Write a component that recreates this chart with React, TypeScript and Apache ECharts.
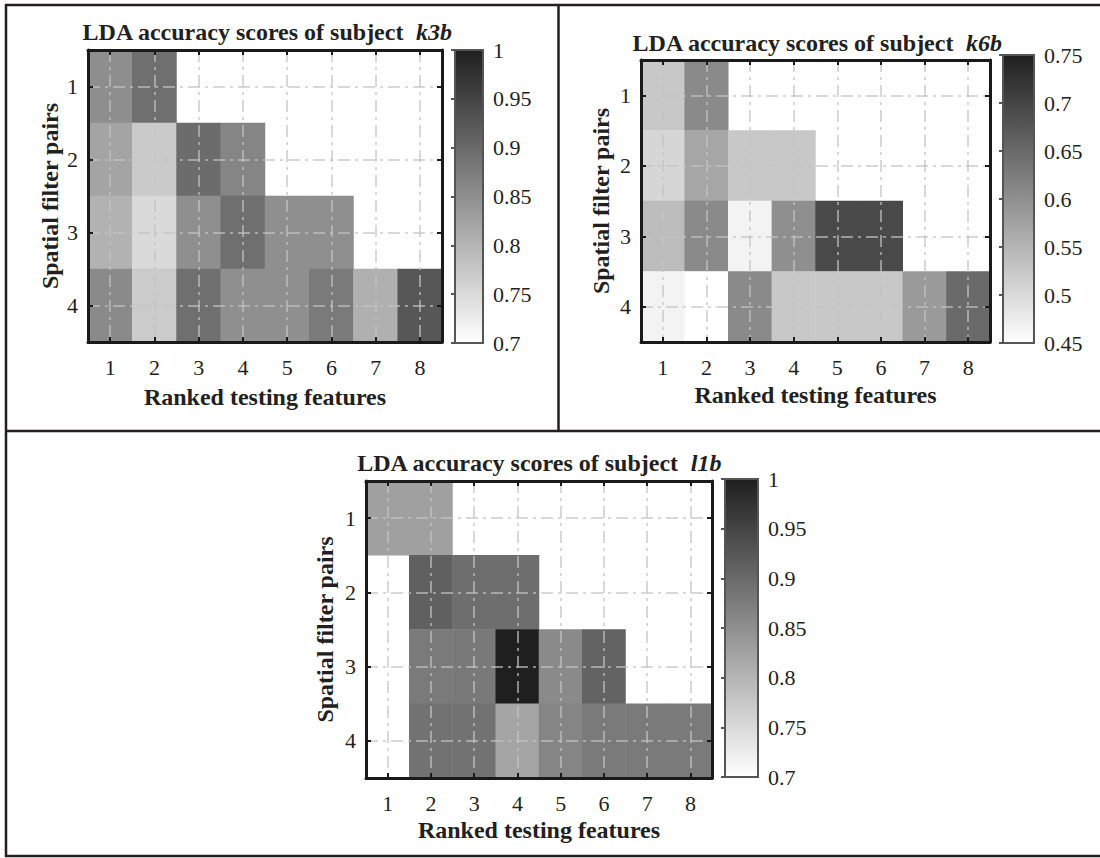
import React, { useEffect, useRef } from "react";
import * as echarts from "echarts";

// ---- data ----
const featureLabels = ["1", "2", "3", "4", "5", "6", "7", "8"];
const pairLabels = ["1", "2", "3", "4"];

const k3bScores: (number | null)[][] = [
  [0.851, 0.893, null, null, null, null, null, null],
  [0.822, 0.771, 0.897, 0.863, null, null, null, null],
  [0.803, 0.75, 0.85, 0.893, 0.85, 0.85, null, null],
  [0.857, 0.77, 0.893, 0.85, 0.85, 0.878, 0.806, 0.925],
];
const k6bScores: (number | null)[][] = [
  [0.524, 0.607, null, null, null, null, null, null],
  [0.505, 0.569, 0.524, 0.524, null, null, null, null],
  [0.54, 0.607, 0.466, 0.6, 0.692, 0.692, null, null],
  [0.466, 0.45, 0.607, 0.524, 0.524, 0.524, 0.585, 0.65],
];
const l1bScores: (number | null)[][] = [
  [0.827, 0.827, null, null, null, null, null, null],
  [null, 0.913, 0.894, 0.894, null, null, null, null],
  [null, 0.878, 0.88, 1.0, 0.857, 0.909, null, null],
  [null, 0.889, 0.889, 0.82, 0.863, 0.878, 0.878, 0.878],
];

const k3bRange = [0.7, 1];
const k6bRange = [0.45, 0.75];
const l1bRange = [0.7, 1];
const colorbarStep = 0.05;

const titleText = "LDA accuracy scores of subject";
const xName = "Ranked testing features";
const yName = "Spatial filter pairs";

// ---- layout / style ----
const FONT = '"Liberation Serif", "Times New Roman", serif';
const DARK = "#1f1f1f";
const FRAME = "#1a1a1a";
const TICK_FS = 22;

const panels = [
  {
    subject: "k3b",
    scores: k3bScores,
    range: k3bRange,
    grid: { left: 88, top: 50, width: 354, height: 292 },
    cb: { left: 455, top: 50, width: 28, height: 293 },
    title: [267, 32],
    xGap: 55,
    yGap: 38,
  },
  {
    subject: "k6b",
    scores: k6bScores,
    range: k6bRange,
    grid: { left: 641, top: 60, width: 349, height: 282 },
    cb: { left: 1003, top: 55, width: 31, height: 288 },
    title: [817, 43],
    xGap: 53,
    yGap: 40,
  },
  {
    subject: "l1b",
    scores: l1bScores,
    range: l1bRange,
    grid: { left: 366, top: 481, width: 346, height: 297 },
    cb: { left: 725, top: 479, width: 33, height: 298 },
    title: [539, 463],
    xGap: 52,
    yGap: 41,
  },
];

function buildOption() {
  const grids: any[] = [];
  const xAxes: any[] = [];
  const yAxes: any[] = [];
  const series: any[] = [];
  const visualMaps: any[] = [];
  const graphics: any[] = [];

  const gridLineStyle = {
    color: "rgba(195,195,195,0.65)",
    width: 2,
    type: [12, 5, 3, 5],
  };

  panels.forEach((p) => {
    const gi = grids.length;
    grids.push({ ...p.grid, containLabel: false });
    const cbi = grids.length;
    grids.push({ ...p.cb, containLabel: false });

    const tickStyle = {
      show: true,
      inside: true,
      alignWithLabel: true,
      length: 5,
      lineStyle: { color: FRAME, width: 2 },
    };
    const lineStyle = { show: true, lineStyle: { color: FRAME, width: 3 } };

    const xb = xAxes.length;
    xAxes.push({
      type: "category",
      gridIndex: gi,
      data: featureLabels,
      position: "bottom",
      z: 6,
      axisLine: lineStyle,
      axisTick: tickStyle,
      axisLabel: { fontFamily: FONT, fontSize: TICK_FS, color: "#231f20", margin: 14 },
      splitLine: { show: false },
      name: xName,
      nameLocation: "middle",
      nameGap: p.xGap,
      nameTextStyle: {
        fontFamily: FONT,
        fontSize: 24,
        fontWeight: "bold",
        color: "#231f20",
        verticalAlign: "middle",
      },
    });
    xAxes.push({
      type: "category",
      gridIndex: gi,
      data: featureLabels,
      position: "top",
      z: 6,
      axisLine: lineStyle,
      axisTick: tickStyle,
      axisLabel: { show: false },
      splitLine: { show: false },
    });
    const yl = yAxes.length;
    yAxes.push({
      type: "category",
      gridIndex: gi,
      data: pairLabels,
      inverse: true,
      position: "left",
      z: 6,
      axisLine: lineStyle,
      axisTick: tickStyle,
      axisLabel: { fontFamily: FONT, fontSize: TICK_FS, color: "#231f20", margin: 10 },
      splitLine: { show: false },
      name: yName,
      nameLocation: "middle",
      nameGap: p.yGap,
      nameRotate: 90,
      nameTextStyle: {
        fontFamily: FONT,
        fontSize: 24,
        fontWeight: "bold",
        color: "#231f20",
        verticalAlign: "middle",
      },
    });
    yAxes.push({
      type: "category",
      gridIndex: gi,
      data: pairLabels,
      inverse: true,
      position: "right",
      z: 6,
      axisLine: lineStyle,
      axisTick: tickStyle,
      axisLabel: { show: false },
      splitLine: { show: false },
    });

    const data: any[] = [];
    p.scores.forEach((row, r) =>
      row.forEach((v, c) => {
        if (v != null) data.push([c, r, v]);
      })
    );
    const si = series.length;
    series.push({
      type: "heatmap",
      xAxisIndex: xb,
      yAxisIndex: yl,
      data,
      itemStyle: { borderWidth: 0 },
      emphasis: { disabled: true },
      markLine: {
        silent: true,
        symbol: "none",
        animation: false,
        label: { show: false },
        lineStyle: gridLineStyle,
        z: 5,
        data: [
          ...featureLabels.map((_, i) => ({ xAxis: i })),
          ...pairLabels.map((_, i) => ({ yAxis: i })),
        ],
      },
    });
    visualMaps.push({
      type: "continuous",
      show: false,
      seriesIndex: si,
      dimension: 2,
      min: p.range[0],
      max: p.range[1],
      inRange: { color: ["#ffffff", DARK] },
    });

    // colorbar
    const cx = xAxes.length;
    xAxes.push({
      type: "value",
      gridIndex: cbi,
      min: 0,
      max: 1,
      show: false,
    });
    const cy = yAxes.length;
    yAxes.push({
      type: "value",
      gridIndex: cbi,
      min: p.range[0],
      max: p.range[1],
      interval: colorbarStep,
      position: "right",
      axisLine: { show: false },
      axisTick: {
        show: true,
        inside: true,
        length: 4,
        lineStyle: { color: "#555", width: 2 },
      },
      splitLine: { show: false },
      z: 6,
      axisLabel: {
        fontFamily: FONT,
        fontSize: TICK_FS,
        color: "#231f20",
        margin: 10,
        formatter: (v: number) => String(parseFloat(v.toFixed(2))),
      },
    });
    series.push({
      type: "custom",
      xAxisIndex: cx,
      yAxisIndex: cy,
      silent: true,
      data: [[0, 1, p.range[0], p.range[1]]],
      renderItem: (params: any, api: any) => {
        const tl = api.coord([api.value(0), api.value(3)]);
        const br = api.coord([api.value(1), api.value(2)]);
        return {
          type: "rect",
          shape: { x: tl[0], y: tl[1], width: br[0] - tl[0], height: br[1] - tl[1] },
          style: {
            fill: new echarts.graphic.LinearGradient(0, 0, 0, 1, [
              { offset: 0, color: DARK },
              { offset: 1, color: "#ffffff" },
            ]),
            stroke: "#555",
            lineWidth: 2,
          },
        };
      },
    });

    graphics.push({
      type: "text",
      x: p.title[0],
      y: p.title[1],
      style: {
        text: `{n|${titleText}}  {s|${p.subject}}`,
        fontFamily: FONT,
        fontSize: 24,
        fontWeight: "bold",
        fill: "#231f20",
        align: "center",
        verticalAlign: "middle",
        rich: {
          n: { fontFamily: FONT, fontSize: 24, fontWeight: "bold", fill: "#231f20" },
          s: {
            fontFamily: FONT,
            fontSize: 24,
            fontWeight: "bold",
            fontStyle: "italic",
            fill: "#231f20",
          },
        },
      },
    });
  });

  const border = { stroke: "#231f20", lineWidth: 2.5 };
  graphics.push(
    { type: "line", shape: { x1: 5, y1: 5, x2: 1100, y2: 5 }, style: border },
    { type: "line", shape: { x1: 6, y1: 4, x2: 6, y2: 857 }, style: border },
    { type: "line", shape: { x1: 558.5, y1: 5, x2: 558.5, y2: 431 }, style: border },
    { type: "line", shape: { x1: 5, y1: 431, x2: 1100, y2: 431 }, style: border },
    { type: "line", shape: { x1: 5, y1: 856, x2: 1100, y2: 856 }, style: border }
  );

  return {
    animation: false,
    backgroundColor: "#ffffff",
    grid: grids,
    xAxis: xAxes,
    yAxis: yAxes,
    visualMap: visualMaps,
    series,
    graphic: graphics,
  };
}

export default function App() {
  const ref = useRef<HTMLDivElement>(null);
  useEffect(() => {
    if (!ref.current) return;
    const chart = echarts.init(ref.current, undefined, { renderer: "svg" });
    chart.setOption(buildOption() as any);
    return () => chart.dispose();
  }, []);
  return (
    <div
      ref={ref}
      style={{
        position: "absolute",
        left: 0,
        top: 0,
        width: 1100,
        height: 858,
        background: "#fff",
      }}
    />
  );
}
